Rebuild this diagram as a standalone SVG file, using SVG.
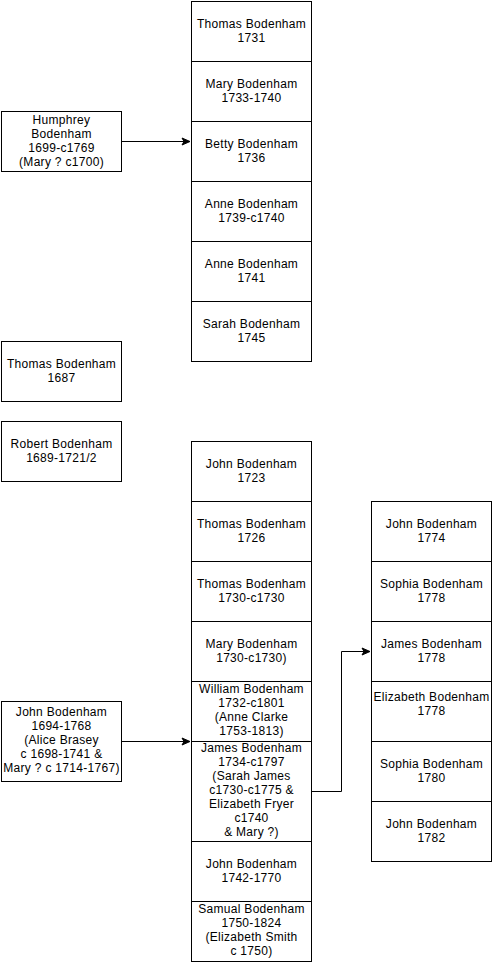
<svg xmlns="http://www.w3.org/2000/svg" width="493" height="963" viewBox="0 0 493 963">
<style>
rect{fill:#fff;stroke:#000;stroke-width:1}
text{font-family:"Liberation Sans",Arial,sans-serif;font-size:12px;letter-spacing:0.3px;fill:#000;text-anchor:middle}
.c{fill:none;stroke:#000;stroke-width:1}
</style>
<defs>
<marker id="a" markerWidth="10" markerHeight="10" refX="9" refY="5" orient="auto" markerUnits="userSpaceOnUse">
<path d="M1,1.5 L9,5 L1,8.5 L3,5 Z" fill="#000" stroke="#000" stroke-width="1"/>
</marker>
</defs>
<rect x="0" y="0" width="493" height="963" style="stroke:none"/>
<g id="connectors">
<path class="c" d="M121.5,141.5 H190" marker-end="url(#a)"/>
<path class="c" d="M121.5,741.5 H190" marker-end="url(#a)"/>
<path class="c" d="M311.5,791.5 H341.5 V651.5 H370" marker-end="url(#a)"/>
</g>
<g id="humphrey"><rect x="1.5" y="111.5" width="120" height="60"/><text x="61.5" y="124">Humphrey</text><text x="61.5" y="138">Bodenham</text><text x="61.5" y="152">1699-c1769</text><text x="61.5" y="166">(Mary ? c1700)</text></g>
<g id="thomas1687"><rect x="1.5" y="341.5" width="120" height="60"/><text x="61.5" y="368">Thomas Bodenham</text><text x="61.5" y="382">1687</text></g>
<g id="robert"><rect x="1.5" y="421.5" width="120" height="60"/><text x="61.5" y="448">Robert Bodenham</text><text x="61.5" y="462">1689-1721/2</text></g>
<g id="john1694"><rect x="1.5" y="701.5" width="120" height="80"/><text x="61.5" y="716">John Bodenham</text><text x="61.5" y="730">1694-1768</text><text x="61.5" y="744">(Alice Brasey</text><text x="61.5" y="758">c 1698-1741 &amp;</text><text x="61.5" y="772">Mary ? c 1714-1767)</text></g>

<g id="thomas1731"><rect x="191.5" y="1.5" width="120" height="60"/><text x="251.5" y="28">Thomas Bodenham</text><text x="251.5" y="42">1731</text></g>
<g id="mary1733"><rect x="191.5" y="61.5" width="120" height="60"/><text x="251.5" y="88">Mary Bodenham</text><text x="251.5" y="102">1733-1740</text></g>
<g id="betty1736"><rect x="191.5" y="121.5" width="120" height="60"/><text x="251.5" y="148">Betty Bodenham</text><text x="251.5" y="162">1736</text></g>
<g id="anne1739"><rect x="191.5" y="181.5" width="120" height="60"/><text x="251.5" y="208">Anne Bodenham</text><text x="251.5" y="222">1739-c1740</text></g>
<g id="anne1741"><rect x="191.5" y="241.5" width="120" height="60"/><text x="251.5" y="268">Anne Bodenham</text><text x="251.5" y="282">1741</text></g>
<g id="sarah1745"><rect x="191.5" y="301.5" width="120" height="60"/><text x="251.5" y="328">Sarah Bodenham</text><text x="251.5" y="342">1745</text></g>

<g id="john1723"><rect x="191.5" y="441.5" width="120" height="60"/><text x="251.5" y="468">John Bodenham</text><text x="251.5" y="482">1723</text></g>
<g id="thomas1726"><rect x="191.5" y="501.5" width="120" height="60"/><text x="251.5" y="528">Thomas Bodenham</text><text x="251.5" y="542">1726</text></g>
<g id="thomas1730"><rect x="191.5" y="561.5" width="120" height="60"/><text x="251.5" y="588">Thomas Bodenham</text><text x="251.5" y="602">1730-c1730</text></g>
<g id="mary1730"><rect x="191.5" y="621.5" width="120" height="60"/><text x="251.5" y="648">Mary Bodenham</text><text x="251.5" y="662">1730-c1730)</text></g>
<g id="william1732"><rect x="191.5" y="681.5" width="120" height="60"/><text x="251.5" y="693">William Bodenham</text><text x="251.5" y="707">1732-c1801</text><text x="251.5" y="721">(Anne Clarke</text><text x="251.5" y="735">1753-1813)</text></g>
<g id="james1734"><rect x="191.5" y="741.5" width="120" height="100"/><text x="251.5" y="752">James Bodenham</text><text x="251.5" y="766">1734-c1797</text><text x="251.5" y="780">(Sarah James</text><text x="251.5" y="794">c1730-c1775 &amp;</text><text x="251.5" y="808">Elizabeth Fryer</text><text x="251.5" y="822">c1740</text><text x="251.5" y="836">&amp; Mary ?)</text></g>
<g id="john1742"><rect x="191.5" y="841.5" width="120" height="60"/><text x="251.5" y="868">John Bodenham</text><text x="251.5" y="882">1742-1770</text></g>
<g id="samual1750"><rect x="191.5" y="901.5" width="120" height="60"/><text x="251.5" y="913">Samual Bodenham</text><text x="251.5" y="927">1750-1824</text><text x="251.5" y="941">(Elizabeth Smith</text><text x="251.5" y="955">c 1750)</text></g>

<g id="john1774"><rect x="371.5" y="501.5" width="120" height="60"/><text x="431.5" y="528">John Bodenham</text><text x="431.5" y="542">1774</text></g>
<g id="sophia1778"><rect x="371.5" y="561.5" width="120" height="60"/><text x="431.5" y="588">Sophia Bodenham</text><text x="431.5" y="602">1778</text></g>
<g id="james1778"><rect x="371.5" y="621.5" width="120" height="60"/><text x="431.5" y="648">James Bodenham</text><text x="431.5" y="662">1778</text></g>
<g id="elizabeth1778"><rect x="371.5" y="681.5" width="120" height="60"/><text x="431.5" y="701">Elizabeth Bodenham</text><text x="431.5" y="715">1778</text></g>
<g id="sophia1780"><rect x="371.5" y="741.5" width="120" height="60"/><text x="431.5" y="768">Sophia Bodenham</text><text x="431.5" y="782">1780</text></g>
<g id="john1782"><rect x="371.5" y="801.5" width="120" height="60"/><text x="431.5" y="828">John Bodenham</text><text x="431.5" y="842">1782</text></g>
</svg>
